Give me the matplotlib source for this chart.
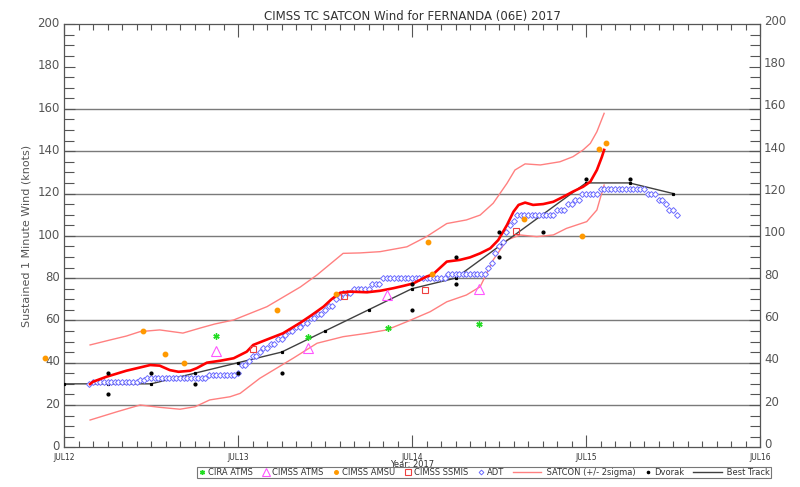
import numpy as np
import matplotlib
matplotlib.use("Agg")
import matplotlib.pyplot as plt
from matplotlib.legend_handler import HandlerLine2D
from matplotlib.lines import Line2D
from matplotlib.transforms import ScaledTranslation

# ---------------- data (hours after JUL12 00Z, knots) ----------------
day_labels = ["JUL12", "JUL13", "JUL14", "JUL15", "JUL16"]

best_hours = [0, 6, 12, 18, 24, 30, 36, 42, 48, 54, 60, 66, 72, 78, 84]
best_kt = [30, 30, 30, 35, 40, 45, 55, 65, 75, 80, 95, 110, 125, 125, 120]

satcon_hours = [3.6, 4.0, 5.9, 8.6, 11.9, 13.2, 14.6, 15.8, 17.4, 18.3, 19.7, 21.5,
                23.4, 25.2, 26.1, 28.4, 30.2, 32.6, 34.2, 35.8, 36.9, 38.1, 39.4,
                41.8, 43.6, 45.4, 46.8, 48.2, 50.0, 50.9, 52.8, 54.6, 56.0, 57.4,
                58.8, 59.9, 61.1, 62.0, 62.7, 63.6, 64.7, 66.1, 67.5, 68.9, 70.2,
                71.6, 72.6, 73.5, 74.2, 74.5]
satcon_kt = [29.9, 31.0, 33.4, 36.2, 38.9, 38.6, 36.5, 35.7, 36.2, 37.4, 40.0, 40.9,
             42.1, 45.2, 48.4, 51.5, 53.9, 58.9, 62.6, 66.5, 70.0, 73.1, 73.6,
             73.3, 74.0, 75.2, 76.3, 77.5, 80.7, 81.8, 87.8, 88.6, 89.8, 91.7,
             94.1, 98.0, 105.1, 111.4, 114.6, 115.7, 114.6, 115.0, 116.1, 118.5, 120.9,
             123.2, 125.6, 131.1, 137.4, 140.6]

upper_hours = [3.6, 6.3, 8.6, 10.5, 13.2, 16.4, 18.8, 20.8, 23.4, 28.0, 32.6, 34.9,
               38.5, 40.8, 43.6, 47.3, 50.0, 52.8, 55.5, 57.4, 59.2, 61.1, 62.2,
               63.6, 65.7, 68.4, 70.2, 71.6, 72.6, 73.5, 74.5]
upper_kt = [48.4, 50.7, 52.6, 54.7, 55.5, 54.0, 56.4, 58.3, 60.2, 66.5, 75.8, 81.5,
            91.7, 91.9, 92.5, 94.8, 99.6, 105.8, 107.5, 109.8, 115.4, 124.8, 131.1,
            134.0, 133.5, 135.0, 137.4, 140.6, 143.7, 149.2, 157.9]

lower_hours = [3.6, 7.3, 10.5, 13.2, 16.0, 18.1, 20.1, 22.9, 24.3, 27.0, 31.6, 34.9,
               38.5, 41.8, 44.5, 47.3, 50.5, 52.8, 55.5, 57.4, 59.2, 61.1, 62.9,
               65.2, 67.5, 69.3, 72.1, 73.5, 73.9, 74.5]
lower_kt = [12.9, 16.8, 20.0, 18.9, 18.0, 19.2, 22.4, 23.9, 25.5, 32.6, 42.1, 49.2,
            52.3, 53.9, 55.5, 59.4, 64.1, 68.8, 72.0, 75.9, 88.6, 98.0, 100.4,
            99.6, 100.4, 103.5, 106.7, 112.2, 117.0, 124.0]

adt_start_hour = 3.5
adt_kt = ([30] + [31] * 13 + [32] * 2 + [33] * 17 + [34] * 8 + [35] + [39, 39] + [41]
          + [43, 43] + [45] + [47, 47] + [49, 49] + [51, 51] + [53] + [55, 55]
          + [57, 57] + [59, 59] + [61, 61] + [63, 63] + [65] + [67, 67] + [70] + [71]
          + [73] * 3 + [75] * 5 + [77] * 3 + [80] * 18 + [82] * 11
          + [85, 87, 92, 95, 97, 102, 105, 107] + [110] * 11 + [112] * 3
          + [115] * 2 + [117] * 2 + [120] * 5 + [122] * 13 + [120] * 3
          + [117] * 2 + [115] + [112] * 2 + [110])
adt_hours = adt_start_hour + 0.5 * np.arange(len(adt_kt))

dvorak_hours = [6, 6, 12, 18, 24, 30, 48, 48, 54, 54, 60, 60, 66, 72, 78]
dvorak_kt = [35, 25, 35, 30, 35, 35, 77, 65, 90, 77, 102, 90, 102, 127, 127]

amsu_hours = [-2.6, 10.9, 13.9, 16.6, 29.4, 37.5, 50.2, 50.8, 63.4, 71.4, 73.8, 74.7]
amsu_kt = [42, 55, 44, 40, 65, 72.5, 97, 82, 108, 100, 141, 144]

cira_hours = [20.9, 33.6, 44.7, 57.2]
cira_kt = [52.5, 52.2, 56.5, 58.3]

atms_hours = [21.0, 33.6, 44.6, 57.2]
atms_kt = [45.5, 47, 72, 75]

ssmis_hours = [26.0, 38.6, 49.8, 62.4]
ssmis_kt = [46.5, 71.4, 74.2, 102.4]

# ---------------- figure ----------------
plt.rcParams['font.family'] = ['DejaVu Sans']
txt = '#333333'
fig = plt.figure(figsize=(8.0, 4.87), dpi=100)
ax = fig.add_axes([64 / 800, 1 - 447.3 / 487, 696 / 800, 423 / 487])

ax.set_xlim(0, 96)
ax.set_ylim(0, 200)

for g in range(20, 161, 20):
    ax.axhline(g, color='#7a7a7a', lw=1.0, zorder=1)

ax.plot(upper_hours, upper_kt, color='#ff8080', lw=1.0, zorder=2)
l_sig, = ax.plot(lower_hours, lower_kt, color='#ff8080', lw=1.0, zorder=2,
                 label='SATCON (+/- 2sigma)')
ax.plot(best_hours, best_kt, color='#404040', lw=1.0, marker='s', ms=1.3,
        mfc='black', mec='black', zorder=3)
l_best = Line2D([], [], color='#404040', lw=1.0)
l_adt, = ax.plot(adt_hours, adt_kt, ls='none', marker='D', ms=3.0, mfc='white',
                 mec='#6b6bff', mew=0.7, zorder=4, label='ADT')
ax.plot(satcon_hours, satcon_kt, color='#ff0000', lw=1.9, zorder=5)
l_cira, = ax.plot(cira_hours, cira_kt, ls='none', marker=(6, 2, 0), ms=4.5,
                  color='#22dd22', mew=1.0, zorder=6, label='CIRA ATMS', clip_on=False)
l_atms, = ax.plot(atms_hours, atms_kt, ls='none', marker='^', ms=7, mfc='none',
                  mec='#ff55ff', mew=0.8, zorder=6, label='CIMSS ATMS', clip_on=False)
l_amsu, = ax.plot(amsu_hours, amsu_kt, ls='none', marker='o', ms=3.2, color='#ff9900',
                  zorder=6, label='CIMSS AMSU', clip_on=False)
l_ssmis, = ax.plot(ssmis_hours, ssmis_kt, ls='none', marker='s', ms=5, mfc='none',
                   mec='#ee4040', mew=0.8, zorder=6, label='CIMSS SSMIS', clip_on=False)
l_dv, = ax.plot(dvorak_hours, dvorak_kt, ls='none', marker='o', ms=2.0, color='black',
                zorder=7, label='Dvorak', clip_on=False)

# ticks
ax.set_xticks(np.arange(0, 97, 24))
ax.set_xticklabels(day_labels)
ax.set_xticks(np.arange(0, 97, 2), minor=True)
ax.set_yticks(np.arange(0, 201, 20))
ax.set_yticks(np.arange(0, 201, 5), minor=True)
ax.tick_params(axis='x', which='major', direction='in', length=9, width=0.8,
               top=True, bottom=True, labelsize=5.5, colors='#555555',
               labelcolor=txt, pad=4)
ax.tick_params(axis='x', which='minor', direction='in', length=4, width=0.8,
               top=True, bottom=True, colors='#555555')
ax.tick_params(axis='y', which='major', direction='in', length=8, width=0.8,
               left=True, right=True, labelleft=True, labelright=True,
               labelsize=8.5, colors='#555555', labelcolor='#555555', pad=3)
ax.tick_params(axis='y', which='minor', direction='in', length=7, width=0.8,
               left=True, right=True, colors='#555555')
for s in ax.spines.values():
    s.set_color('#555555')
    s.set_linewidth(0.9)

up = ScaledTranslation(0, 1.6 / 72, fig.dpi_scale_trans)
for lab in ax.yaxis.get_majorticklabels():
    lab.set_transform(lab.get_transform() + up)
for tk in ax.yaxis.get_major_ticks():
    tk.label2.set_transform(tk.label2.get_transform() + up)

ax.set_title('CIMSS TC SATCON Wind for FERNANDA (06E) 2017', fontsize=8.5,
             color=txt, pad=3)
ax.set_ylabel('Sustained 1 Minute Wind (knots)', fontsize=8, color='#555555')
ax.yaxis.set_label_coords(-0.047, 0.5)
ax.set_xlabel('Year: 2017', fontsize=6, color=txt, labelpad=-1)


class HandlerLongLine(HandlerLine2D):
    def __init__(self, extra, **kw):
        super().__init__(**kw)
        self.extra = extra

    def create_artists(self, legend, orig_handle, xdescent, ydescent, width,
                       height, fontsize, trans):
        return super().create_artists(legend, orig_handle, xdescent, ydescent,
                                      width + self.extra, height, fontsize, trans)


handles = [l_cira, l_atms, l_amsu, l_ssmis, l_adt, l_sig, l_dv, l_best]
labels = ['CIRA ATMS', 'CIMSS ATMS', 'CIMSS AMSU', 'CIMSS SSMIS', 'ADT',
          '         SATCON (+/- 2sigma)', 'Dvorak', '         Best Track']
leg = fig.legend(handles, labels, loc='center',
                 bbox_to_anchor=(484 / 800, 1 - 472.5 / 487), ncol=8,
                 fontsize=6, frameon=True, fancybox=False, shadow=False,
                 handlelength=0.9, handletextpad=0.25, columnspacing=1.1,
                 borderpad=0.15, borderaxespad=0, numpoints=1, markerscale=0.8,
                 handler_map={l_sig: HandlerLongLine(15), l_best: HandlerLongLine(15)})
leg.get_frame().set_edgecolor('#555555')
leg.get_frame().set_linewidth(0.8)
for t in leg.get_texts():
    t.set_color(txt)

fig.savefig('out.png', dpi=100)
